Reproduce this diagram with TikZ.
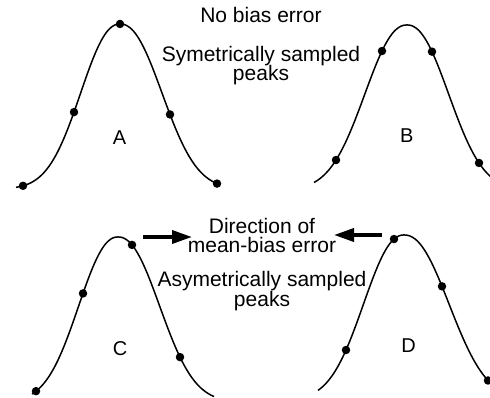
\documentclass[tikz,border=0pt]{standalone}
\usepackage{fontspec}
\setmainfont{Liberation Sans}
\usetikzlibrary{arrows.meta}
\begin{document}
\begin{tikzpicture}[x=1pt,y=-1pt,
  declare function={pk(\pkx,\pkm,\pky,\pkl,\pkr)=\pky+165*(1-exp(-(max(abs(\pkx-\pkm)/((\pkx<\pkm)?\pkl:\pkr),0.001))^2.2));},
  curve/.style={line width=1.5pt},
  dotmark/.style={circle,fill=black,inner sep=0pt,minimum size=8.5pt},
  txt/.style={font=\fontsize{21}{19}\selectfont,anchor=base,inner sep=0pt},
  peaklbl/.style={font=\fontsize{20}{20}\selectfont,anchor=base,inner sep=0pt},
  biasarrow/.style={line width=3.5pt,-{Triangle[length=20pt,width=13pt]}}]
\useasboundingbox (0,0) rectangle (490,398);

% ---- curve A ----
\draw[curve] plot[domain=16:219,samples=120,smooth] (\x,{pk(\x,120,24,52,55.5)});
\foreach \px/\nm in {23/a1,74/a2,120/a3,170/a4,217/a5}
  \node[dotmark] (\nm) at (\px,{pk(\px,120,24,52,55.5)}) {};
\node[peaklbl] (labA) at (119.5,145) {A};

% ---- curve B ----
\draw[curve] plot[domain=314:492,samples=120,smooth] (\x,{pk(\x,407,25,55.7,55)});
\foreach \px/\nm in {336/b1,382/b2,432/b3,479/b4}
  \node[dotmark] (\nm) at (\px,{pk(\px,407,25,55.7,55)}) {};
\node[peaklbl] (labB) at (406.7,143) {B};

% ---- curve C ----
\draw[curve] plot[domain=32:214,samples=120,smooth] (\x,{pk(\x,118,237,52,55)});
\foreach \px/\nm in {36/c1,83/c2,132/c3,180/c4}
  \node[dotmark] (\nm) at (\px,{pk(\px,118,237,52,55)}) {};
\node[peaklbl] (labC) at (120,355) {C};

% ---- curve D ----
\draw[curve] plot[domain=318:492,samples=120,smooth] (\x,{pk(\x,404,235,53.5,59.5)});
\foreach \px/\nm in {346/d1,394/d2,442/d3,488/d4}
  \node[dotmark] (\nm) at (\px,{pk(\px,404,235,53.5,59.5)}) {};
\node[peaklbl] (labD) at (408.5,352) {D};

% ---- texts ----
\node[txt] (t1) at (261,23) {No bias error};
\node[txt] (t2) at (261,62) {Symetrically sampled};
\node[txt] (t3) at (261,81) {peaks};
\node[txt] (t4) at (262,234) {Direction of};
\node[txt] (t5) at (262,253) {mean-bias error};
\node[txt] (t6) at (262,287) {Asymetrically sampled};
\node[txt] (t7) at (262,306) {peaks};

% ---- arrows ----
\coordinate (r0) at (143,237);
\coordinate (r1) at (192,237);
\coordinate (l0) at (382,235);
\coordinate (l1) at (334,235);
\draw[biasarrow] (r0) -- (r1);
\draw[biasarrow] (l0) -- (l1);
\end{tikzpicture}
\end{document}
